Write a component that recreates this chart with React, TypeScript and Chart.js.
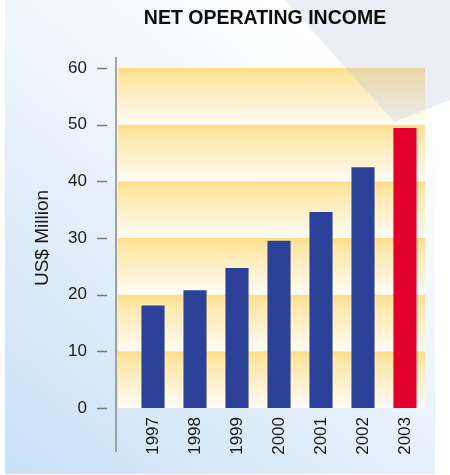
import React, { useEffect, useRef } from "react";
import { Chart, registerables } from "chart.js";

Chart.register(...registerables);

const years = ["1997", "1998", "1999", "2000", "2001", "2002", "2003"];
const income = [18.1, 20.8, 24.7, 29.5, 34.6, 42.5, 49.4];
const barColors = ["#2b4197", "#2b4197", "#2b4197", "#2b4197", "#2b4197", "#2b4197", "#e0002b"];
const yTicks = [0, 10, 20, 30, 40, 50, 60];
const chartTitle = "NET OPERATING INCOME";
const axisTitle = "US$ Million";

const FONT = '"Liberation Sans", Arial, sans-serif';

const decorPlugin = {
  id: "decor",
  beforeDraw(chart: any) {
    const { ctx, chartArea } = chart;
    const y = chart.scales.y;
    ctx.save();
    // background panel
    const bg = ctx.createLinearGradient(5, 474, 340, 60);
    bg.addColorStop(0, "#c8dff5");
    bg.addColorStop(0.55, "#e9f2fb");
    bg.addColorStop(1, "#ffffff");
    ctx.fillStyle = bg;
    ctx.fillRect(5, 0, 430, 474);
    // bands
    const left = chartArea.left - 14;
    const right = chartArea.right - 1;
    for (let i = 0; i < yTicks.length - 1; i++) {
      const top = y.getPixelForValue(yTicks[i + 1]);
      const bot = y.getPixelForValue(yTicks[i]);
      const g = ctx.createLinearGradient(0, top, 0, bot);
      g.addColorStop(0, "#fcdd86");
      g.addColorStop(0.15, "#fde6a4");
      g.addColorStop(1, "#fffcf5");
      ctx.fillStyle = g;
      ctx.fillRect(left, top, right - left, bot - top);
    }
    // spotlight wedge
    ctx.beginPath();
    ctx.moveTo(285, 0);
    ctx.lineTo(450, 0);
    ctx.lineTo(450, 100);
    ctx.lineTo(394, 122);
    ctx.closePath();
    ctx.fillStyle = "rgba(185,192,220,0.27)";
    ctx.fill();
    ctx.restore();
  },
  afterDraw(chart: any) {
    const { ctx } = chart;
    const y = chart.scales.y;
    ctx.save();
    ctx.strokeStyle = "#8a8a8a";
    ctx.lineWidth = 1.5;
    ctx.beginPath();
    ctx.moveTo(116, 57);
    ctx.lineTo(116, 452);
    ctx.stroke();
    ctx.strokeStyle = "#7a7a7a";
    for (const v of yTicks) {
      const py = Math.round(y.getPixelForValue(v)) + 0.5;
      ctx.beginPath();
      ctx.moveTo(97, py);
      ctx.lineTo(107, py);
      ctx.stroke();
    }
    ctx.fillStyle = "#0d0d0d";
    ctx.font = `bold 19.5px ${FONT}`;
    ctx.textAlign = "center";
    ctx.textBaseline = "middle";
    ctx.fillText(chartTitle, 265, 19);
    ctx.restore();
  },
};

export default function App() {
  const ref = useRef<HTMLCanvasElement | null>(null);
  useEffect(() => {
    if (!ref.current) return;
    Chart.defaults.font.family = FONT;
    const chart = new Chart(ref.current, {
      type: "bar",
      data: {
        labels: years,
        datasets: [
          {
            data: income,
            backgroundColor: barColors,
            borderWidth: 0,
            barPercentage: 0.55,
            categoryPercentage: 1.0,
          },
        ],
      },
      options: {
        animation: false,
        responsive: false,
        maintainAspectRatio: false,
        layout: { padding: { top: 68, right: 24, left: 0, bottom: 0 } },
        plugins: {
          legend: { display: false },
          tooltip: { enabled: false },
          title: { display: false },
        },
        scales: {
          x: {
            grid: { display: false, drawTicks: false },
            border: { display: false },
            ticks: {
              autoSkip: false,
              minRotation: 90,
              maxRotation: 90,
              padding: 9,
              color: "#1a1a1a",
              font: { size: 17 },
            },
            afterFit: (s: any) => {
              s.height = 67;
            },
          },
          y: {
            min: 0,
            max: 60,
            grid: { display: false, drawTicks: false },
            border: { display: false },
            ticks: {
              stepSize: 10,
              padding: 45,
              color: "#1a1a1a",
              font: { size: 17 },
            },
            title: {
              display: true,
              text: axisTitle,
              color: "#1a1a1a",
              font: { size: 19 },
              padding: { top: 31, bottom: 0 },
            },
            afterFit: (s: any) => {
              s.width = 132;
            },
          },
        },
      },
      plugins: [decorPlugin],
    });
    return () => chart.destroy();
  }, []);
  return (
    <div style={{ position: "absolute", left: 0, top: 0, width: 450, height: 475 }}>
      <canvas ref={ref} width={450} height={475} style={{ width: 450, height: 475 }} />
    </div>
  );
}
